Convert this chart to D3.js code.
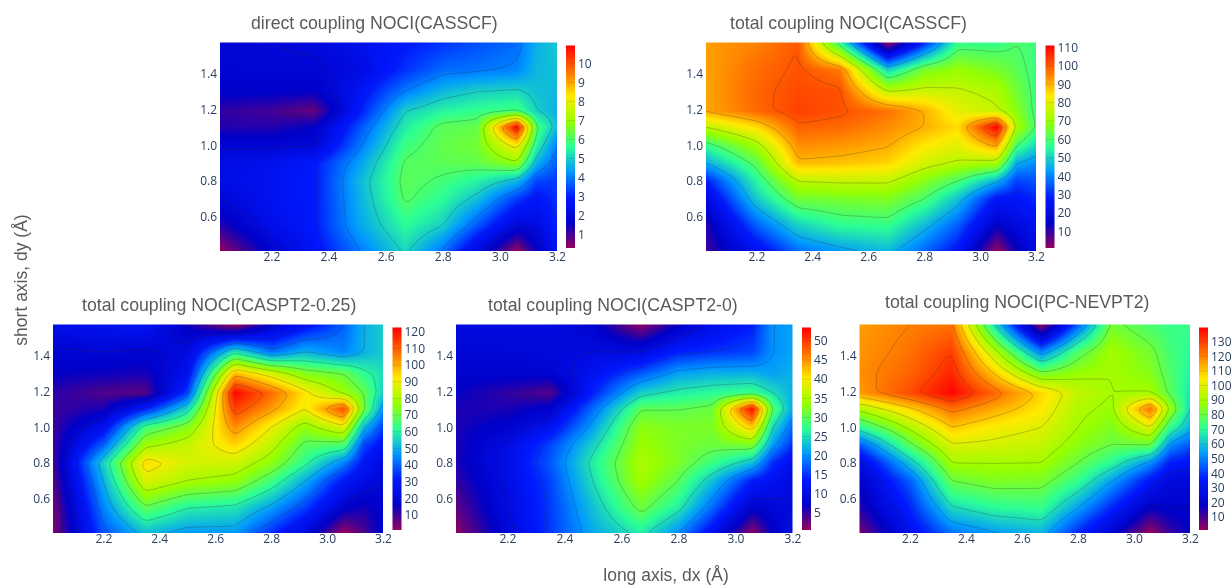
<!DOCTYPE html>
<html>
<head>
<meta charset="utf-8">
<script src="https://cdn.jsdelivr.net/npm/d3@7"></script>
<style>
  html, body { margin: 0; padding: 0; background: #fff; }
  svg { display: block; filter: blur(0.4px); }
  .tick text { font-family: "Open Sans", sans-serif; font-size: 12px; fill: #2a3f5f; }
  .title { font-family: "Liberation Sans", sans-serif; font-size: 17.7px; fill: #5a5a5a; }
  .axis-title { font-family: "Liberation Sans", sans-serif; font-size: 17.5px; fill: #5a5a5a; }
</style>
</head>
<body>
<div id="chart"></div>
<script>
// grid nodes of the scans
var xNodes = [2.02, 2.2, 2.35, 2.5, 2.67, 2.8, 2.92, 3.06, 3.13, 3.2]
var yNodes = [0.41, 0.55, 0.7, 0.8, 0.9, 1.0, 1.1, 1.19, 1.3, 1.42, 1.57]

var xTicks = [2.2, 2.4, 2.6, 2.8, 3.0, 3.2]
var yTicks = [0.6, 0.8, 1.0, 1.2, 1.4]

// rows go from the lowest dy to the highest
var directCasscf = [
  [0.3, 1.8, 2.7, 3.9, 5.1, 3.9, 2.2, 0.3, 1.6, 2.6],
  [1.3, 2.4, 2.9, 4.4, 5.6, 5.0, 3.6, 2.0, 2.2, 3.0],
  [2.0, 2.6, 2.9, 4.5, 6.1, 5.6, 4.8, 3.3, 2.8, 3.2],
  [2.3, 2.6, 2.9, 4.6, 6.2, 5.9, 5.5, 4.7, 3.4, 3.3],
  [2.3, 2.5, 2.9, 4.3, 6.1, 6.2, 6.3, 6.9, 4.6, 3.6],
  [1.9, 1.9, 1.95, 3.8, 5.8, 6.3, 6.5, 8.3, 5.5, 4.0],
  [1.3, 1.3, 1.6, 3.4, 5.4, 6.2, 6.3, 10.9, 6.0, 4.75],
  [1.2, 1.0, 0.7, 2.8, 5.0, 5.5, 5.7, 5.9, 5.0, 4.6],
  [1.7, 1.7, 1.6, 2.6, 4.0, 4.7, 5.0, 5.1, 4.8, 4.7],
  [1.9, 1.9, 1.9, 2.2, 3.2, 3.8, 3.9, 4.1, 4.7, 4.8],
  [1.9, 2.0, 2.1, 2.4, 2.9, 3.2, 3.5, 3.8, 4.6, 4.9]
]
var totalCasscf = [
  [9, 24, 38, 43, 47, 37, 27, 1, 14, 20],
  [11, 36, 50, 56, 57, 47, 36, 15, 20, 24],
  [20, 49, 65, 66, 67, 60, 48, 27, 27, 30],
  [29, 55, 75, 76, 76, 68, 60, 46, 33, 35],
  [45, 62, 89, 88, 86, 78, 74, 72, 45, 41],
  [57, 72, 94, 93, 90.5, 84, 80, 92, 60, 51],
  [75, 85, 99, 98, 94, 90, 85, 111, 73, 59],
  [91, 98, 103, 101, 97, 90, 80, 76, 68, 58],
  [91, 98.5, 102, 101, 75, 77, 76, 73, 65, 58],
  [91.5, 97.5, 101, 96, 50, 66, 70, 66, 62, 58],
  [92, 95, 100, 56, 1, 30, 57, 57, 60, 58]
]
var totalCaspt025 = [
  [3, 38, 52, 47, 47, 34, 22, 1, 8, 18],
  [4, 44, 69, 60, 58, 48, 36, 18, 14, 18],
  [7, 50, 87, 80, 77, 65, 50, 30, 24, 20],
  [9, 55, 94, 86, 85, 76, 62, 44, 30, 22],
  [10, 40, 78, 84, 95, 83, 68, 66, 37, 28],
  [10, 26, 64, 74, 104, 90, 76, 88, 52, 36],
  [10, 14, 32, 56, 114, 102, 90, 112, 72, 46],
  [12, 8, 7, 36, 122, 108, 93, 78, 70, 55],
  [16, 15, 14, 26, 98, 86, 74, 70, 62, 57],
  [19, 20, 19, 22, 58, 42, 50, 44, 50, 54],
  [25, 27, 28, 15, 1, 18, 28, 40, 50, 54]
]
var totalCaspt20 = [
  [1, 9, 15.5, 21.5, 26, 20, 12, 1, 7, 11],
  [3, 10, 15.5, 23, 31, 26, 18, 8, 9, 10],
  [5, 10.5, 16, 25, 34.5, 30, 23, 14, 12, 10],
  [6, 11, 17, 26, 35, 32, 28, 23, 15, 11],
  [6, 10.5, 16, 24, 34, 32, 31, 32, 21, 15],
  [6, 8, 12, 21, 33, 32, 32, 42, 25, 18],
  [6, 6, 8, 18, 30, 30, 31, 53, 30, 21.5],
  [7, 5, 3.5, 14, 24, 26, 27, 28, 25, 22],
  [8, 8, 8, 12, 17, 21, 22, 22, 21, 22],
  [9, 9, 9.5, 10, 10, 14, 15, 16, 20, 21],
  [10, 10, 10, 8, 1, 7, 11, 14, 20, 21]
]
var totalNevpt2 = [
  [5, 30, 48, 54, 58, 38, 22, 1, 12, 18],
  [14, 37, 64, 70, 72, 55, 38, 18, 20, 20],
  [20, 45, 80, 84, 83, 72, 55, 34, 24, 24],
  [26, 60, 90, 90, 90, 80, 70, 52, 36, 33],
  [44, 78, 99, 98, 95, 86, 80, 80, 52, 44],
  [70, 92, 110, 104, 100, 90, 84, 100, 72, 58],
  [92, 108, 122, 114, 105, 92, 88, 122, 88, 64],
  [116, 128, 139, 124, 108, 95, 90, 90, 78, 66],
  [118, 124, 134, 110, 82, 88, 90, 85, 76, 68],
  [117, 122, 130, 94, 50, 76, 90, 82, 74, 70],
  [116, 120, 122, 66, 2, 45, 82, 75, 72, 72]
]

var barTicks1 = [1, 2, 3, 4, 5, 6, 7, 8, 9, 10]
var barTicks2 = [10, 20, 30, 40, 50, 60, 70, 80, 90, 100, 110]
var barTicks3 = [10, 20, 30, 40, 50, 60, 70, 80, 90, 100, 110, 120]
var barTicks4 = [5, 10, 15, 20, 25, 30, 35, 40, 45, 50]
var barTicks5 = [10, 20, 30, 40, 50, 60, 70, 80, 90, 100, 110, 120, 130]

var levels1 = [1, 2, 3, 4, 5, 6, 7, 8, 9, 10]
var levels2 = [15, 30, 45, 60, 75, 90, 100]
var levels3 = [10, 20, 30, 40, 50, 60, 70, 80, 90, 100, 110, 120]
var levels4 = [5, 10, 15, 20, 25, 30, 35, 40, 45, 50]
var levels5 = [10, 20, 30, 40, 55, 65, 80, 90, 100, 110, 120, 130]

// plotly "Rainbow"
var rainbow = ["#96005a", "#0000c8", "#0019ff", "#0098ff", "#2cff96", "#97ff00", "#ffea00", "#ff6f00", "#ff0000"]

var panels = [
  {title: "direct coupling NOCI(CASSCF)", tx: 251, ty: 29, z: directCasscf, range: [0.28, 10.96], bar: barTicks1, levels: levels1, l: 220, r: 557, t: 42.5, b: 251, cb: 566},
  {title: "total coupling NOCI(CASSCF)", tx: 730, ty: 29, z: totalCasscf, range: [1, 111], bar: barTicks2, levels: levels2, l: 706, r: 1036, t: 42.5, b: 251, cb: 1045.5},
  {title: "total coupling NOCI(CASPT2-0.25)", tx: 82, ty: 311, z: totalCaspt025, range: [1, 122.6], bar: barTicks3, levels: levels3, l: 53, r: 383, t: 324.5, b: 533, cb: 392.5},
  {title: "total coupling NOCI(CASPT2-0)", tx: 488, ty: 311, z: totalCaspt20, range: [0.57, 53.5], bar: barTicks4, levels: levels4, l: 456, r: 792.5, t: 324.5, b: 533, cb: 802},
  {title: "total coupling NOCI(PC-NEVPT2)", tx: 885, ty: 308, z: totalNevpt2, range: [1.1, 139.7], bar: barTicks5, levels: levels5, l: 859.5, r: 1190, t: 324.5, b: 533, cb: 1199}
]

var svg = d3.select("#chart")
  .append("svg")
  .attr("width", 1232)
  .attr("height", 585)

var defs = svg.append("defs")

// bilinear lookup between the grid nodes
var xIndex = d3.scaleLinear().domain(xNodes).range(d3.range(xNodes.length)).clamp(true)
var yIndex = d3.scaleLinear().domain(yNodes).range(d3.range(yNodes.length)).clamp(true)

function lookup(z, x, y) {
  var fx = xIndex(x), fy = yIndex(y)
  var i = Math.min(Math.floor(fx), xNodes.length - 2)
  var j = Math.min(Math.floor(fy), yNodes.length - 2)
  var u = fx - i, v = fy - j
  return (z[j][i] * (1 - u) + z[j][i + 1] * u) * (1 - v) + (z[j + 1][i] * (1 - u) + z[j + 1][i + 1] * u) * v
}

panels.forEach(function(p, n) {
  var xScale = d3.scaleLinear().domain([2.02, 3.2]).range([p.l, p.r])
  var yScale = d3.scaleLinear().domain([0.41, 1.573]).range([p.b, p.t])
  var w = Math.round(p.r - p.l), h = Math.round(p.b - p.t)

  var color = d3.scaleLinear()
    .domain(rainbow.map(function(c, i) { return p.range[0] + (p.range[1] - p.range[0]) * i / (rainbow.length - 1) }))
    .range(rainbow)
    .clamp(true)

  // heatmap
  var canvas = document.createElement("canvas")
  canvas.width = w
  canvas.height = h
  var ctx = canvas.getContext("2d")
  var img = ctx.createImageData(w, h)
  for (var py = 0; py < h; py++) {
    for (var px = 0; px < w; px++) {
      var val = lookup(p.z, xScale.invert(p.l + px + 0.5), yScale.invert(p.t + py + 0.5))
      var c = d3.rgb(color(val))
      var k = (py * w + px) * 4
      img.data[k] = c.r
      img.data[k + 1] = c.g
      img.data[k + 2] = c.b
      img.data[k + 3] = 255
    }
  }
  ctx.putImageData(img, 0, 0)

  svg.append("image")
    .attr("x", p.l)
    .attr("y", p.t)
    .attr("width", p.r - p.l)
    .attr("height", p.b - p.t)
    .attr("preserveAspectRatio", "none")
    .attr("href", canvas.toDataURL())

  // contour lines, the grid runs past the frame so the closing edge gets clipped
  var step = 2, pad = 6
  var nx = Math.ceil(w / step) + pad * 2, ny = Math.ceil(h / step) + pad * 2
  var field = new Float64Array(nx * ny)
  for (var j = 0; j < ny; j++) {
    for (var i = 0; i < nx; i++) {
      field[j * nx + i] = lookup(p.z,
        xScale.invert(p.l + (i - pad + 0.5) * step),
        yScale.invert(p.t + (j - pad + 0.5) * step))
    }
  }
  d3.blur2({data: field, width: nx, height: ny}, 0.8)

  var contours = d3.contours().size([nx, ny]).smooth(true).thresholds(p.levels)(field)
  var project = d3.geoTransform({
    point: function(x, y) {
      this.stream.point(p.l + (x - pad) * step, p.t + (y - pad) * step)
    }
  })

  defs.append("clipPath").attr("id", "clip" + n)
    .append("rect")
    .attr("x", p.l).attr("y", p.t)
    .attr("width", p.r - p.l).attr("height", p.b - p.t)

  svg.append("g")
    .attr("clip-path", "url(#clip" + n + ")")
    .selectAll("path")
    .data(contours)
    .enter()
    .append("path")
    .attr("d", d3.geoPath(project))
    .attr("fill", "none")
    .attr("stroke", "#2a2a2a")
    .attr("stroke-opacity", 0.42)
    .attr("stroke-width", 0.6)

  // axes
  var bottomAxis = d3.axisBottom(xScale).tickValues(xTicks).tickFormat(d3.format(".1f")).tickSize(0).tickPadding(1)
  var leftAxis = d3.axisLeft(yScale).tickValues(yTicks).tickFormat(d3.format(".1f")).tickSize(0).tickPadding(3)

  svg.append("g").attr("transform", "translate(0," + p.b + ")").call(bottomAxis).call(function(g) { g.select(".domain").remove() })
  svg.append("g").attr("transform", "translate(" + p.l + ",0)").call(leftAxis).call(function(g) { g.select(".domain").remove() })

  // colour bar
  var barScale = d3.scaleLinear().domain(p.range).range([p.b - 3, p.t + 3])
  var grad = defs.append("linearGradient").attr("id", "bar" + n)
    .attr("x1", 0).attr("y1", 1).attr("x2", 0).attr("y2", 0)
  rainbow.forEach(function(c, i) {
    grad.append("stop").attr("offset", i / (rainbow.length - 1)).attr("stop-color", c)
  })
  svg.append("rect")
    .attr("x", p.cb)
    .attr("y", p.t + 3)
    .attr("width", 9)
    .attr("height", p.b - p.t - 6)
    .attr("fill", "url(#bar" + n + ")")

  var barAxis = d3.axisRight(barScale).tickValues(p.bar).tickSize(0).tickPadding(3)
  svg.append("g").attr("transform", "translate(" + (p.cb + 9) + ",0)").call(barAxis).call(function(g) { g.select(".domain").remove() })
  svg.append("g")
    .selectAll("line")
    .data(p.bar)
    .enter()
    .append("line")
    .attr("x1", p.cb)
    .attr("x2", p.cb + 9)
    .attr("y1", function(d) { return barScale(d) })
    .attr("y2", function(d) { return barScale(d) })
    .attr("stroke", "#444")
    .attr("stroke-opacity", 0.25)
    .attr("stroke-width", 0.6)

  svg.append("text")
    .attr("class", "title")
    .attr("x", p.tx)
    .attr("y", p.ty)
    .text(p.title)
})

svg.append("text")
  .attr("class", "axis-title")
  .attr("transform", "rotate(-90)")
  .attr("x", -280)
  .attr("y", 27)
  .style("text-anchor", "middle")
  .text("short axis, dy (Å)")

svg.append("text")
  .attr("class", "axis-title")
  .attr("x", 666)
  .attr("y", 581)
  .style("text-anchor", "middle")
  .text("long axis, dx (Å)")
</script>
</body>
</html>
